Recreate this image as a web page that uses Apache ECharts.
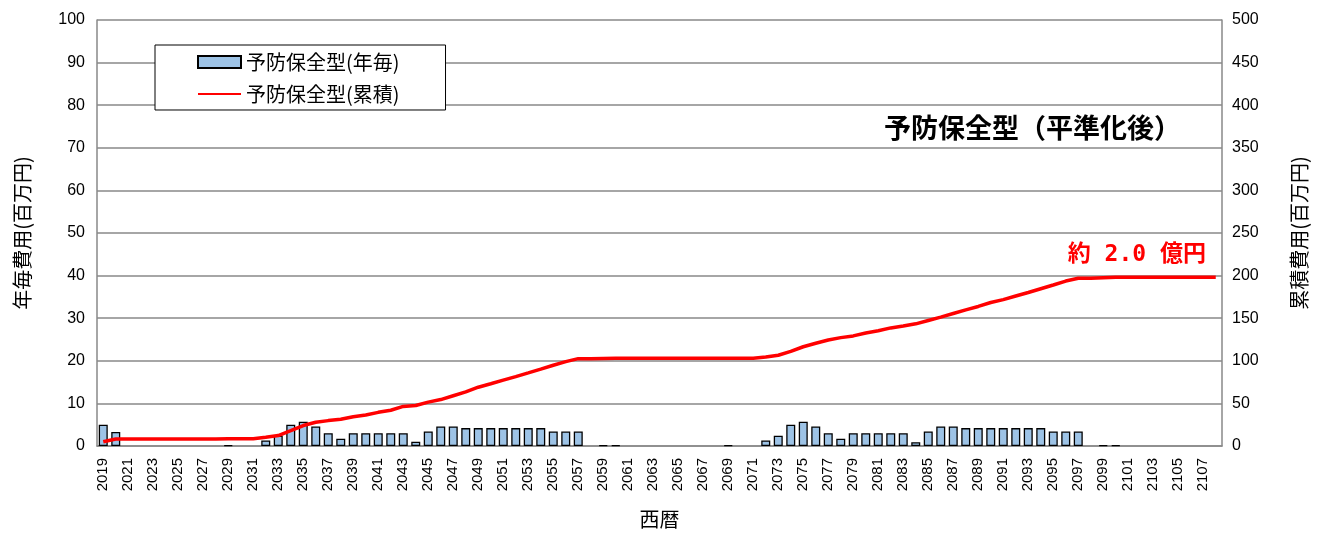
<!DOCTYPE html>
<html>
<head>
<meta charset="utf-8">
<script src="https://cdn.jsdelivr.net/npm/echarts@6/dist/echarts.min.js"></script>
<style>
  html, body { margin: 0; padding: 0; background: #ffffff; }
  #chart { width: 1327px; height: 534px; }
</style>
</head>
<body>
<div id="chart"></div>
<script>
// 西暦 2019–2108
const years = [];
for (let y = 2019; y <= 2108; y++) years.push(String(y));

// 予防保全型 年毎費用（百万円）
const annualCost = [
  5.0, 3.3, null, null, null, null, null, null, null, null,          // 2019-2028
  0.2, null, null, 1.3, 2.4, 5.0, 5.7, 4.6, 3.0, 1.7,                // 2029-2038
  3.0, 3.0, 3.0, 3.0, 3.0, 1.0, 3.4, 4.6, 4.6, 4.2,                  // 2039-2048
  4.2, 4.2, 4.2, 4.2, 4.2, 4.2, 3.4, 3.4, 3.4, null,                 // 2049-2058
  0.2, 0.2, null, null, null, null, null, null, null, null,          // 2059-2068
  0.2, null, null, 1.3, 2.4, 5.0, 5.7, 4.6, 3.0, 1.7,                // 2069-2078
  3.0, 3.0, 3.0, 3.0, 3.0, 0.9, 3.4, 4.6, 4.6, 4.2,                  // 2079-2088
  4.2, 4.2, 4.2, 4.2, 4.2, 4.2, 3.4, 3.4, 3.4, null,                 // 2089-2098
  0.2, 0.2, null, null, null, null, null, null, null, null           // 2099-2108
];

// 予防保全型 累積費用（百万円）
const cumulativeCost = [
  5.0, 8.2, 8.2, 8.2, 8.2, 8.2, 8.2, 8.2, 8.2, 8.2,                  // 2019-2028
  8.4, 8.4, 8.4, 10.2, 12.3, 18.0, 24.0, 27.8, 29.8, 31.4,           // 2029-2038
  34.4, 36.4, 39.5, 42.0, 46.5, 47.5, 51.5, 54.5, 59.0, 63.5,        // 2039-2048
  69.0, 73.0, 77.3, 81.5, 85.8, 90.2, 94.8, 99.0, 102.5, 102.5,      // 2049-2058
  102.7, 102.9, 102.9, 102.9, 102.9, 102.9, 102.9, 102.9, 102.9, 102.9, // 2059-2068
  103.1, 103.1, 103.1, 104.4, 106.5, 111.0, 116.5, 120.6, 124.4, 127.2, // 2069-2078
  129.2, 132.7, 135.2, 138.6, 140.8, 143.4, 147.3, 151.2, 155.5, 159.8, // 2079-2088
  163.8, 168.4, 171.8, 176.0, 180.2, 184.6, 189.0, 193.6, 196.8, 197.0, // 2089-2098
  197.5, 198.0, 198.0, 198.0, 198.0, 198.0, 198.0, 198.0, 198.0, 198.0  // 2099-2108
];

const leftTicks = { min: 0, max: 100, interval: 10 };
const rightTicks = { min: 0, max: 500, interval: 50 };

const FONT = '"Liberation Sans", "Noto Sans CJK JP", sans-serif';
const JP_FONT = '"Noto Sans CJK JP", sans-serif';
const GRID_GRAY = '#898989';

// 最終累積額を億円で表示
const finalTotal = cumulativeCost[cumulativeCost.length - 1];
const totalLabel = '約 ' + (finalTotal / 100).toFixed(1) + ' 億円';

const chart = echarts.init(document.getElementById('chart'), null, { renderer: 'canvas' });

chart.setOption({
  animation: false,
  backgroundColor: '#ffffff',
  textStyle: { fontFamily: FONT, color: '#000' },
  grid: { left: 97, right: 105, top: 20, bottom: 77, containLabel: false },
  legend: {
    orient: 'vertical',
    left: 155,
    top: 45,
    padding: [7, 46, 6, 42],
    itemGap: 12,
    itemWidth: 43,
    itemHeight: 12,
    backgroundColor: '#fff',
    borderColor: '#000',
    borderWidth: 1,
    textStyle: { fontFamily: JP_FONT, fontSize: 20, color: '#000' },
    data: [
      { name: '予防保全型(年毎)', icon: 'rect' },
      { name: '予防保全型(累積)', itemStyle: { opacity: 0 } }
    ]
  },
  graphic: [
    {
      type: 'text',
      left: 884,
      top: 114,
      style: {
        text: '予防保全型（平準化後）',
        font: 'bold 27px "Noto Sans CJK JP", sans-serif',
        fill: '#000'
      }
    },
    {
      type: 'text',
      right: 121,
      top: 244,
      style: {
        text: totalLabel,
        font: 'bold 23px "DejaVu Sans Mono", "Noto Sans CJK JP", monospace',
        fill: '#ff0000'
      }
    }
  ],
  xAxis: {
    type: 'category',
    data: years,
    boundaryGap: true,
    name: '西暦',
    nameLocation: 'middle',
    nameGap: 63,
    nameTextStyle: { fontFamily: JP_FONT, fontSize: 20, color: '#000' },
    axisLine: { show: true, lineStyle: { color: GRID_GRAY, width: 1.5 } },
    axisTick: { show: false },
    axisLabel: {
      interval: 1,
      rotate: 90,
      margin: 12,
      fontFamily: FONT,
      fontSize: 15,
      color: '#000'
    }
  },
  yAxis: [
    {
      type: 'value',
      min: leftTicks.min,
      max: leftTicks.max,
      interval: leftTicks.interval,
      name: '年毎費用(百万円)',
      nameLocation: 'middle',
      nameGap: 65,
      nameRotate: 90,
      nameTextStyle: { fontFamily: JP_FONT, fontSize: 20, color: '#000' },
      axisLine: { show: true, lineStyle: { color: GRID_GRAY, width: 1.5 } },
      axisTick: { show: false },
      axisLabel: { margin: 12, fontFamily: FONT, fontSize: 16, color: '#000' },
      splitLine: { show: true, lineStyle: { color: GRID_GRAY, width: 1.5 } }
    },
    {
      type: 'value',
      min: rightTicks.min,
      max: rightTicks.max,
      interval: rightTicks.interval,
      name: '累積費用(百万円)',
      nameLocation: 'middle',
      nameGap: 67,
      nameRotate: 90,
      nameTextStyle: { fontFamily: JP_FONT, fontSize: 20, color: '#000' },
      axisLine: { show: true, lineStyle: { color: GRID_GRAY, width: 1.5 } },
      axisTick: { show: false },
      axisLabel: { margin: 10, fontFamily: FONT, fontSize: 16, color: '#000' },
      splitLine: { show: false }
    }
  ],
  series: [
    {
      name: '予防保全型(年毎)',
      type: 'bar',
      yAxisIndex: 0,
      data: annualCost,
      barWidth: 9,
      itemStyle: { color: '#9dc3e6', borderColor: '#000', borderWidth: 1.3 }
    },
    {
      name: '予防保全型(累積)',
      type: 'line',
      yAxisIndex: 1,
      data: cumulativeCost,
      symbol: 'none',
      smooth: false,
      lineStyle: { color: '#ff0000', width: 3.5 },
      itemStyle: { color: '#ff0000' },
      z: 3
    }
  ]
});
</script>
</body>
</html>
